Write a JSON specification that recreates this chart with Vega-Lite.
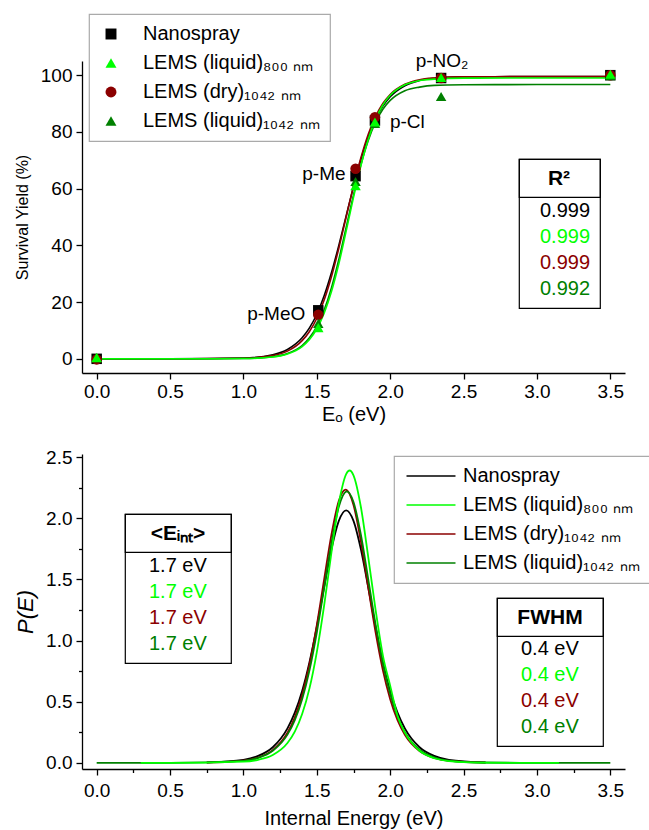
{
  "$schema": "https://vega.github.io/schema/vega-lite/v6.json",
  "background": "white",
  "autosize": {"type": "pad"},
  "padding": {"left": 14, "top": 13, "right": 4, "bottom": 4},
  "spacing": 81,
  "bounds": "flush",
  "config": {
    "font": "Liberation Sans",
    "view": {"stroke": null},
    "axis": {"domainColor": "#000000", "domainWidth": 1.3, "tickColor": "#000000", "tickWidth": 1.3, "labelFont": "Liberation Sans", "labelFontSize": 19, "labelColor": "#000000", "titleFont": "Liberation Sans", "titleFontSize": 20, "titleFontWeight": "normal", "titleColor": "#000000", "grid": false, "labelOverlap": false, "labelFlush": false, "labelBound": false},
    "legend": {"labelFont": "Liberation Sans", "titleFont": "Liberation Sans", "labelColor": "#000000", "titleColor": "#000000", "labelLimit": 400, "titleLimit": 400, "strokeWidth": 1.2}
  },
  "resolve": {"scale": {"color": "independent", "fill": "independent", "shape": "independent", "stroke": "independent", "strokeDash": "independent"}},
  "datasets": {
    "r2table": [
      {"row": 1, "series": "Nanospray"},
      {"row": 2, "series": "LEMS (liquid)₈₀₀ ₙₘ"},
      {"row": 3, "series": "LEMS (dry)₁₀₄₂ ₙₘ"},
      {"row": 4, "series": "LEMS (liquid)₁₀₄₂ ₙₘ"}
    ],
    "einttable": [
      {"row": 1, "series": "Nanospray"},
      {"row": 2, "series": "LEMS (liquid)₈₀₀ ₙₘ"},
      {"row": 3, "series": "LEMS (dry)₁₀₄₂ ₙₘ"},
      {"row": 4, "series": "LEMS (liquid)₁₀₄₂ ₙₘ"}
    ],
    "fwhmtable": [
      {"row": 1, "series": "Nanospray"},
      {"row": 2, "series": "LEMS (liquid)₈₀₀ ₙₘ"},
      {"row": 3, "series": "LEMS (dry)₁₀₄₂ ₙₘ"},
      {"row": 4, "series": "LEMS (liquid)₁₀₄₂ ₙₘ"}
    ],
    "r2header": [{"part": "R² header"}],
    "einthead": [{"part": "Eint header"}],
    "fwhmhead": [{"part": "FWHM header"}],
    "points": [
      {"series": "Nanospray", "E": 0, "Y": 0},
      {"series": "Nanospray", "E": 1.51, "Y": 17.1},
      {"series": "Nanospray", "E": 1.764, "Y": 64.4},
      {"series": "Nanospray", "E": 1.896, "Y": 84.0},
      {"series": "Nanospray", "E": 2.347, "Y": 99.0},
      {"series": "Nanospray", "E": 3.5, "Y": 100},
      {"series": "LEMS (dry)₁₀₄₂ ₙₘ", "E": 0, "Y": -0.2},
      {"series": "LEMS (dry)₁₀₄₂ ₙₘ", "E": 1.51, "Y": 15.5},
      {"series": "LEMS (dry)₁₀₄₂ ₙₘ", "E": 1.764, "Y": 67.0},
      {"series": "LEMS (dry)₁₀₄₂ ₙₘ", "E": 1.896, "Y": 85.2},
      {"series": "LEMS (dry)₁₀₄₂ ₙₘ", "E": 2.347, "Y": 99.0},
      {"series": "LEMS (dry)₁₀₄₂ ₙₘ", "E": 3.5, "Y": 100},
      {"series": "LEMS (liquid)₁₀₄₂ ₙₘ", "E": 0, "Y": 0.3},
      {"series": "LEMS (liquid)₁₀₄₂ ₙₘ", "E": 1.51, "Y": 12.5},
      {"series": "LEMS (liquid)₁₀₄₂ ₙₘ", "E": 1.764, "Y": 62.5},
      {"series": "LEMS (liquid)₁₀₄₂ ₙₘ", "E": 1.896, "Y": 83.0},
      {"series": "LEMS (liquid)₁₀₄₂ ₙₘ", "E": 2.347, "Y": 92.5},
      {"series": "LEMS (liquid)₁₀₄₂ ₙₘ", "E": 3.5, "Y": 99.8},
      {"series": "LEMS (liquid)₈₀₀ ₙₘ", "E": 0, "Y": 0.5},
      {"series": "LEMS (liquid)₈₀₀ ₙₘ", "E": 1.51, "Y": 11.0},
      {"series": "LEMS (liquid)₈₀₀ ₙₘ", "E": 1.764, "Y": 61.0},
      {"series": "LEMS (liquid)₈₀₀ ₙₘ", "E": 1.896, "Y": 83.5},
      {"series": "LEMS (liquid)₈₀₀ ₙₘ", "E": 2.347, "Y": 99.2},
      {"series": "LEMS (liquid)₈₀₀ ₙₘ", "E": 3.5, "Y": 100.3}
    ],
    "annotations": [
      {"label": "p-MeO", "E": 1.51, "Y": 17.1},
      {"label": "p-Me", "E": 1.764, "Y": 64.4},
      {"label": "p-Cl", "E": 1.896, "Y": 84.0},
      {"label": "p-NO₂", "E": 2.347, "Y": 99.0}
    ],
    "fits": [
      {"series": "Nanospray", "E": 0, "Y": 0}, {"series": "Nanospray", "E": 0.5, "Y": 0}, {"series": "Nanospray", "E": 1.0, "Y": 0.27}, {"series": "Nanospray", "E": 1.2, "Y": 1.45}, {"series": "Nanospray", "E": 1.3, "Y": 3.3}, {"series": "Nanospray", "E": 1.4, "Y": 7.4}, {"series": "Nanospray", "E": 1.45, "Y": 10.9}, {"series": "Nanospray", "E": 1.5, "Y": 15.7}, {"series": "Nanospray", "E": 1.55, "Y": 22.2}, {"series": "Nanospray", "E": 1.6, "Y": 30.4}, {"series": "Nanospray", "E": 1.65, "Y": 40.0}, {"series": "Nanospray", "E": 1.7, "Y": 50.4}, {"series": "Nanospray", "E": 1.75, "Y": 60.7}, {"series": "Nanospray", "E": 1.8, "Y": 70.2}, {"series": "Nanospray", "E": 1.85, "Y": 78.2}, {"series": "Nanospray", "E": 1.9, "Y": 84.4}, {"series": "Nanospray", "E": 1.95, "Y": 89.1}, {"series": "Nanospray", "E": 2.0, "Y": 92.4}, {"series": "Nanospray", "E": 2.1, "Y": 96.3}, {"series": "Nanospray", "E": 2.2, "Y": 98.1}, {"series": "Nanospray", "E": 2.3, "Y": 98.9}, {"series": "Nanospray", "E": 2.5, "Y": 99.4}, {"series": "Nanospray", "E": 3.0, "Y": 99.5}, {"series": "Nanospray", "E": 3.5, "Y": 99.5},
      {"series": "LEMS (dry)₁₀₄₂ ₙₘ", "E": 0, "Y": 0}, {"series": "LEMS (dry)₁₀₄₂ ₙₘ", "E": 0.5, "Y": 0}, {"series": "LEMS (dry)₁₀₄₂ ₙₘ", "E": 1.0, "Y": 0.19}, {"series": "LEMS (dry)₁₀₄₂ ₙₘ", "E": 1.2, "Y": 1.13}, {"series": "LEMS (dry)₁₀₄₂ ₙₘ", "E": 1.3, "Y": 2.7}, {"series": "LEMS (dry)₁₀₄₂ ₙₘ", "E": 1.4, "Y": 6.4}, {"series": "LEMS (dry)₁₀₄₂ ₙₘ", "E": 1.45, "Y": 9.65}, {"series": "LEMS (dry)₁₀₄₂ ₙₘ", "E": 1.5, "Y": 14.3}, {"series": "LEMS (dry)₁₀₄₂ ₙₘ", "E": 1.55, "Y": 20.7}, {"series": "LEMS (dry)₁₀₄₂ ₙₘ", "E": 1.6, "Y": 29.0}, {"series": "LEMS (dry)₁₀₄₂ ₙₘ", "E": 1.65, "Y": 39.0}, {"series": "LEMS (dry)₁₀₄₂ ₙₘ", "E": 1.7, "Y": 50.0}, {"series": "LEMS (dry)₁₀₄₂ ₙₘ", "E": 1.75, "Y": 60.9}, {"series": "LEMS (dry)₁₀₄₂ ₙₘ", "E": 1.8, "Y": 70.8}, {"series": "LEMS (dry)₁₀₄₂ ₙₘ", "E": 1.85, "Y": 79.1}, {"series": "LEMS (dry)₁₀₄₂ ₙₘ", "E": 1.9, "Y": 85.4}, {"series": "LEMS (dry)₁₀₄₂ ₙₘ", "E": 1.95, "Y": 90.0}, {"series": "LEMS (dry)₁₀₄₂ ₙₘ", "E": 2.0, "Y": 93.2}, {"series": "LEMS (dry)₁₀₄₂ ₙₘ", "E": 2.1, "Y": 96.8}, {"series": "LEMS (dry)₁₀₄₂ ₙₘ", "E": 2.2, "Y": 98.4}, {"series": "LEMS (dry)₁₀₄₂ ₙₘ", "E": 2.3, "Y": 99.0}, {"series": "LEMS (dry)₁₀₄₂ ₙₘ", "E": 2.5, "Y": 99.4}, {"series": "LEMS (dry)₁₀₄₂ ₙₘ", "E": 3.0, "Y": 99.5}, {"series": "LEMS (dry)₁₀₄₂ ₙₘ", "E": 3.5, "Y": 99.5},
      {"series": "LEMS (liquid)₁₀₄₂ ₙₘ", "E": 0, "Y": 0}, {"series": "LEMS (liquid)₁₀₄₂ ₙₘ", "E": 0.5, "Y": 0}, {"series": "LEMS (liquid)₁₀₄₂ ₙₘ", "E": 1.0, "Y": 0.1}, {"series": "LEMS (liquid)₁₀₄₂ ₙₘ", "E": 1.2, "Y": 0.72}, {"series": "LEMS (liquid)₁₀₄₂ ₙₘ", "E": 1.3, "Y": 1.86}, {"series": "LEMS (liquid)₁₀₄₂ ₙₘ", "E": 1.4, "Y": 4.7}, {"series": "LEMS (liquid)₁₀₄₂ ₙₘ", "E": 1.45, "Y": 7.4}, {"series": "LEMS (liquid)₁₀₄₂ ₙₘ", "E": 1.5, "Y": 11.4}, {"series": "LEMS (liquid)₁₀₄₂ ₙₘ", "E": 1.55, "Y": 17.2}, {"series": "LEMS (liquid)₁₀₄₂ ₙₘ", "E": 1.6, "Y": 25.1}, {"series": "LEMS (liquid)₁₀₄₂ ₙₘ", "E": 1.65, "Y": 35.0}, {"series": "LEMS (liquid)₁₀₄₂ ₙₘ", "E": 1.7, "Y": 46.3}, {"series": "LEMS (liquid)₁₀₄₂ ₙₘ", "E": 1.75, "Y": 57.8}, {"series": "LEMS (liquid)₁₀₄₂ ₙₘ", "E": 1.8, "Y": 68.3}, {"series": "LEMS (liquid)₁₀₄₂ ₙₘ", "E": 1.85, "Y": 76.9}, {"series": "LEMS (liquid)₁₀₄₂ ₙₘ", "E": 1.9, "Y": 83.4}, {"series": "LEMS (liquid)₁₀₄₂ ₙₘ", "E": 1.95, "Y": 88.0}, {"series": "LEMS (liquid)₁₀₄₂ ₙₘ", "E": 2.0, "Y": 91.1}, {"series": "LEMS (liquid)₁₀₄₂ ₙₘ", "E": 2.1, "Y": 94.5}, {"series": "LEMS (liquid)₁₀₄₂ ₙₘ", "E": 2.2, "Y": 95.8}, {"series": "LEMS (liquid)₁₀₄₂ ₙₘ", "E": 2.3, "Y": 96.4}, {"series": "LEMS (liquid)₁₀₄₂ ₙₘ", "E": 2.5, "Y": 96.6}, {"series": "LEMS (liquid)₁₀₄₂ ₙₘ", "E": 3.0, "Y": 96.7}, {"series": "LEMS (liquid)₁₀₄₂ ₙₘ", "E": 3.5, "Y": 96.7},
      {"series": "LEMS (liquid)₈₀₀ ₙₘ", "E": 0, "Y": 0}, {"series": "LEMS (liquid)₈₀₀ ₙₘ", "E": 0.5, "Y": 0}, {"series": "LEMS (liquid)₈₀₀ ₙₘ", "E": 1.0, "Y": 0.09}, {"series": "LEMS (liquid)₈₀₀ ₙₘ", "E": 1.2, "Y": 0.64}, {"series": "LEMS (liquid)₈₀₀ ₙₘ", "E": 1.3, "Y": 1.66}, {"series": "LEMS (liquid)₈₀₀ ₙₘ", "E": 1.4, "Y": 4.3}, {"series": "LEMS (liquid)₈₀₀ ₙₘ", "E": 1.45, "Y": 6.8}, {"series": "LEMS (liquid)₈₀₀ ₙₘ", "E": 1.5, "Y": 10.6}, {"series": "LEMS (liquid)₈₀₀ ₙₘ", "E": 1.55, "Y": 16.1}, {"series": "LEMS (liquid)₈₀₀ ₙₘ", "E": 1.6, "Y": 23.7}, {"series": "LEMS (liquid)₈₀₀ ₙₘ", "E": 1.65, "Y": 33.5}, {"series": "LEMS (liquid)₈₀₀ ₙₘ", "E": 1.7, "Y": 45.0}, {"series": "LEMS (liquid)₈₀₀ ₙₘ", "E": 1.75, "Y": 56.9}, {"series": "LEMS (liquid)₈₀₀ ₙₘ", "E": 1.8, "Y": 68.0}, {"series": "LEMS (liquid)₈₀₀ ₙₘ", "E": 1.85, "Y": 77.3}, {"series": "LEMS (liquid)₈₀₀ ₙₘ", "E": 1.9, "Y": 84.4}, {"series": "LEMS (liquid)₈₀₀ ₙₘ", "E": 1.95, "Y": 89.5}, {"series": "LEMS (liquid)₈₀₀ ₙₘ", "E": 2.0, "Y": 92.9}, {"series": "LEMS (liquid)₈₀₀ ₙₘ", "E": 2.1, "Y": 96.6}, {"series": "LEMS (liquid)₈₀₀ ₙₘ", "E": 2.2, "Y": 98.1}, {"series": "LEMS (liquid)₈₀₀ ₙₘ", "E": 2.3, "Y": 98.6}, {"series": "LEMS (liquid)₈₀₀ ₙₘ", "E": 2.5, "Y": 98.95}, {"series": "LEMS (liquid)₈₀₀ ₙₘ", "E": 3.0, "Y": 99.0}, {"series": "LEMS (liquid)₈₀₀ ₙₘ", "E": 3.5, "Y": 99.0}
    ],
    "pe": [
      {"series": "Nanospray", "E": 0.75, "Y": 0.003}, {"series": "Nanospray", "E": 1.0, "Y": 0.025}, {"series": "Nanospray", "E": 1.1, "Y": 0.057}, {"series": "Nanospray", "E": 1.2, "Y": 0.128}, {"series": "Nanospray", "E": 1.3, "Y": 0.282}, {"series": "Nanospray", "E": 1.35, "Y": 0.411}, {"series": "Nanospray", "E": 1.4, "Y": 0.588}, {"series": "Nanospray", "E": 1.45, "Y": 0.824}, {"series": "Nanospray", "E": 1.5, "Y": 1.114}, {"series": "Nanospray", "E": 1.55, "Y": 1.438}, {"series": "Nanospray", "E": 1.6, "Y": 1.747}, {"series": "Nanospray", "E": 1.65, "Y": 1.978}, {"series": "Nanospray", "E": 1.7, "Y": 2.064}, {"series": "Nanospray", "E": 1.75, "Y": 1.978}, {"series": "Nanospray", "E": 1.8, "Y": 1.747}, {"series": "Nanospray", "E": 1.85, "Y": 1.438}, {"series": "Nanospray", "E": 1.9, "Y": 1.114}, {"series": "Nanospray", "E": 1.95, "Y": 0.824}, {"series": "Nanospray", "E": 2.0, "Y": 0.588}, {"series": "Nanospray", "E": 2.05, "Y": 0.411}, {"series": "Nanospray", "E": 2.1, "Y": 0.282}, {"series": "Nanospray", "E": 2.2, "Y": 0.128}, {"series": "Nanospray", "E": 2.3, "Y": 0.057}, {"series": "Nanospray", "E": 2.4, "Y": 0.025}, {"series": "Nanospray", "E": 2.65, "Y": 0.003},
      {"series": "LEMS (dry)₁₀₄₂ ₙₘ", "E": 0.75, "Y": 0.002}, {"series": "LEMS (dry)₁₀₄₂ ₙₘ", "E": 1.0, "Y": 0.018}, {"series": "LEMS (dry)₁₀₄₂ ₙₘ", "E": 1.1, "Y": 0.043}, {"series": "LEMS (dry)₁₀₄₂ ₙₘ", "E": 1.2, "Y": 0.104}, {"series": "LEMS (dry)₁₀₄₂ ₙₘ", "E": 1.3, "Y": 0.246}, {"series": "LEMS (dry)₁₀₄₂ ₙₘ", "E": 1.35, "Y": 0.372}, {"series": "LEMS (dry)₁₀₄₂ ₙₘ", "E": 1.4, "Y": 0.554}, {"series": "LEMS (dry)₁₀₄₂ ₙₘ", "E": 1.45, "Y": 0.804}, {"series": "LEMS (dry)₁₀₄₂ ₙₘ", "E": 1.5, "Y": 1.126}, {"series": "LEMS (dry)₁₀₄₂ ₙₘ", "E": 1.55, "Y": 1.5}, {"series": "LEMS (dry)₁₀₄₂ ₙₘ", "E": 1.6, "Y": 1.868}, {"series": "LEMS (dry)₁₀₄₂ ₙₘ", "E": 1.65, "Y": 2.142}, {"series": "LEMS (dry)₁₀₄₂ ₙₘ", "E": 1.696, "Y": 2.233}, {"series": "LEMS (dry)₁₀₄₂ ₙₘ", "E": 1.75, "Y": 2.108}, {"series": "LEMS (dry)₁₀₄₂ ₙₘ", "E": 1.8, "Y": 1.813}, {"series": "LEMS (dry)₁₀₄₂ ₙₘ", "E": 1.85, "Y": 1.438}, {"series": "LEMS (dry)₁₀₄₂ ₙₘ", "E": 1.9, "Y": 1.071}, {"series": "LEMS (dry)₁₀₄₂ ₙₘ", "E": 1.95, "Y": 0.759}, {"series": "LEMS (dry)₁₀₄₂ ₙₘ", "E": 2.0, "Y": 0.521}, {"series": "LEMS (dry)₁₀₄₂ ₙₘ", "E": 2.05, "Y": 0.349}, {"series": "LEMS (dry)₁₀₄₂ ₙₘ", "E": 2.1, "Y": 0.23}, {"series": "LEMS (dry)₁₀₄₂ ₙₘ", "E": 2.2, "Y": 0.097}, {"series": "LEMS (dry)₁₀₄₂ ₙₘ", "E": 2.3, "Y": 0.04}, {"series": "LEMS (dry)₁₀₄₂ ₙₘ", "E": 2.4, "Y": 0.017}, {"series": "LEMS (dry)₁₀₄₂ ₙₘ", "E": 2.65, "Y": 0.002},
      {"series": "LEMS (liquid)₁₀₄₂ ₙₘ", "E": 0, "Y": 0}, {"series": "LEMS (liquid)₁₀₄₂ ₙₘ", "E": 0.5, "Y": 0}, {"series": "LEMS (liquid)₁₀₄₂ ₙₘ", "E": 1.0, "Y": 0.017}, {"series": "LEMS (liquid)₁₀₄₂ ₙₘ", "E": 1.1, "Y": 0.041}, {"series": "LEMS (liquid)₁₀₄₂ ₙₘ", "E": 1.2, "Y": 0.099}, {"series": "LEMS (liquid)₁₀₄₂ ₙₘ", "E": 1.3, "Y": 0.231}, {"series": "LEMS (liquid)₁₀₄₂ ₙₘ", "E": 1.35, "Y": 0.349}, {"series": "LEMS (liquid)₁₀₄₂ ₙₘ", "E": 1.4, "Y": 0.52}, {"series": "LEMS (liquid)₁₀₄₂ ₙₘ", "E": 1.45, "Y": 0.757}, {"series": "LEMS (liquid)₁₀₄₂ ₙₘ", "E": 1.5, "Y": 1.066}, {"series": "LEMS (liquid)₁₀₄₂ ₙₘ", "E": 1.55, "Y": 1.43}, {"series": "LEMS (liquid)₁₀₄₂ ₙₘ", "E": 1.6, "Y": 1.8}, {"series": "LEMS (liquid)₁₀₄₂ ₙₘ", "E": 1.65, "Y": 2.093}, {"series": "LEMS (liquid)₁₀₄₂ ₙₘ", "E": 1.705, "Y": 2.22}, {"series": "LEMS (liquid)₁₀₄₂ ₙₘ", "E": 1.75, "Y": 2.133}, {"series": "LEMS (liquid)₁₀₄₂ ₙₘ", "E": 1.8, "Y": 1.867}, {"series": "LEMS (liquid)₁₀₄₂ ₙₘ", "E": 1.85, "Y": 1.505}, {"series": "LEMS (liquid)₁₀₄₂ ₙₘ", "E": 1.9, "Y": 1.134}, {"series": "LEMS (liquid)₁₀₄₂ ₙₘ", "E": 1.95, "Y": 0.813}, {"series": "LEMS (liquid)₁₀₄₂ ₙₘ", "E": 2.0, "Y": 0.562}, {"series": "LEMS (liquid)₁₀₄₂ ₙₘ", "E": 2.05, "Y": 0.379}, {"series": "LEMS (liquid)₁₀₄₂ ₙₘ", "E": 2.1, "Y": 0.251}, {"series": "LEMS (liquid)₁₀₄₂ ₙₘ", "E": 2.2, "Y": 0.107}, {"series": "LEMS (liquid)₁₀₄₂ ₙₘ", "E": 2.3, "Y": 0.045}, {"series": "LEMS (liquid)₁₀₄₂ ₙₘ", "E": 2.4, "Y": 0.018}, {"series": "LEMS (liquid)₁₀₄₂ ₙₘ", "E": 2.6, "Y": 0.003}, {"series": "LEMS (liquid)₁₀₄₂ ₙₘ", "E": 3.0, "Y": 0}, {"series": "LEMS (liquid)₁₀₄₂ ₙₘ", "E": 3.5, "Y": 0},
      {"series": "LEMS (liquid)₈₀₀ ₙₘ", "E": 0.3, "Y": 0}, {"series": "LEMS (liquid)₈₀₀ ₙₘ", "E": 0.5, "Y": 0}, {"series": "LEMS (liquid)₈₀₀ ₙₘ", "E": 1.0, "Y": 0.01}, {"series": "LEMS (liquid)₈₀₀ ₙₘ", "E": 1.1, "Y": 0.025}, {"series": "LEMS (liquid)₈₀₀ ₙₘ", "E": 1.2, "Y": 0.064}, {"series": "LEMS (liquid)₈₀₀ ₙₘ", "E": 1.3, "Y": 0.162}, {"series": "LEMS (liquid)₈₀₀ ₙₘ", "E": 1.35, "Y": 0.255}, {"series": "LEMS (liquid)₈₀₀ ₙₘ", "E": 1.4, "Y": 0.399}, {"series": "LEMS (liquid)₈₀₀ ₙₘ", "E": 1.45, "Y": 0.609}, {"series": "LEMS (liquid)₈₀₀ ₙₘ", "E": 1.5, "Y": 0.906}, {"series": "LEMS (liquid)₈₀₀ ₙₘ", "E": 1.55, "Y": 1.288}, {"series": "LEMS (liquid)₈₀₀ ₙₘ", "E": 1.6, "Y": 1.722}, {"series": "LEMS (liquid)₈₀₀ ₙₘ", "E": 1.65, "Y": 2.121}, {"series": "LEMS (liquid)₈₀₀ ₙₘ", "E": 1.7, "Y": 2.361}, {"series": "LEMS (liquid)₈₀₀ ₙₘ", "E": 1.723, "Y": 2.39}, {"series": "LEMS (liquid)₈₀₀ ₙₘ", "E": 1.75, "Y": 2.351}, {"series": "LEMS (liquid)₈₀₀ ₙₘ", "E": 1.8, "Y": 2.094}, {"series": "LEMS (liquid)₈₀₀ ₙₘ", "E": 1.85, "Y": 1.687}, {"series": "LEMS (liquid)₈₀₀ ₙₘ", "E": 1.9, "Y": 1.255}, {"series": "LEMS (liquid)₈₀₀ ₙₘ", "E": 1.95, "Y": 0.879}, {"series": "LEMS (liquid)₈₀₀ ₙₘ", "E": 2.0, "Y": 0.631}, {"series": "LEMS (liquid)₈₀₀ ₙₘ", "E": 2.05, "Y": 0.385}, {"series": "LEMS (liquid)₈₀₀ ₙₘ", "E": 2.1, "Y": 0.247}, {"series": "LEMS (liquid)₈₀₀ ₙₘ", "E": 2.2, "Y": 0.099}, {"series": "LEMS (liquid)₈₀₀ ₙₘ", "E": 2.3, "Y": 0.038}, {"series": "LEMS (liquid)₈₀₀ ₙₘ", "E": 2.4, "Y": 0.015}, {"series": "LEMS (liquid)₈₀₀ ₙₘ", "E": 2.6, "Y": 0.002}, {"series": "LEMS (liquid)₈₀₀ ₙₘ", "E": 3.0, "Y": 0}, {"series": "LEMS (liquid)₈₀₀ ₙₘ", "E": 3.15, "Y": 0}
    ]
  },
  "vconcat": [
    {
      "width": 543,
      "height": 312,
      "layer": [
        {
          "data": {"name": "fits"},
          "mark": {"type": "line", "interpolate": "monotone", "strokeWidth": 1.6},
          "encoding": {
            "x": {"field": "E", "type": "quantitative", "scale": {"domain": [-0.1, 3.6], "nice": false, "zero": false},
              "axis": {"values": [0, 0.25, 0.5, 0.75, 1, 1.25, 1.5, 1.75, 2, 2.25, 2.5, 2.75, 3, 3.25, 3.5], "labelExpr": "round(datum.value*4) % 2 == 0 ? format(datum.value, '.1f') : ''", "tickSize": {"condition": {"test": "round(datum.value*4) % 2 == 0", "value": 6}, "value": 3.5}, "labelPadding": 3, "title": "Eₒ (eV)", "titlePadding": 3}},
            "y": {"field": "Y", "type": "quantitative", "scale": {"domain": [-5, 105], "nice": false, "zero": false},
              "axis": {"values": [0, 5, 10, 15, 20, 25, 30, 35, 40, 45, 50, 55, 60, 65, 70, 75, 80, 85, 90, 95, 100], "labelExpr": "datum.value % 10 == 0 ? datum.label : ''", "tickSize": {"condition": {"test": "datum.value % 10 == 0", "value": 6}, "value": 3.5}, "labelPadding": 4, "title": "Survival Yield (%)", "titleFontSize": 16, "titlePadding": 10}},
            "color": {"field": "series", "type": "nominal", "scale": {"domain": ["Nanospray", "LEMS (dry)₁₀₄₂ ₙₘ", "LEMS (liquid)₁₀₄₂ ₙₘ", "LEMS (liquid)₈₀₀ ₙₘ"], "range": ["#000000", "#8B0000", "#008000", "#00FF00"]}, "legend": null}
          }
        },
        {
          "data": {"name": "points"},
          "mark": {"type": "point", "filled": true, "size": 110, "opacity": 1},
          "encoding": {
            "x": {"field": "E", "type": "quantitative", "scale": {"domain": [-0.1, 3.6], "nice": false, "zero": false}},
            "y": {"field": "Y", "type": "quantitative", "scale": {"domain": [-5, 105], "nice": false, "zero": false}},
            "fill": {"field": "series", "type": "nominal", "scale": {"domain": ["Nanospray", "LEMS (liquid)₈₀₀ ₙₘ", "LEMS (dry)₁₀₄₂ ₙₘ", "LEMS (liquid)₁₀₄₂ ₙₘ"], "range": ["#000000", "#00FF00", "#8B0000", "#008000"]},
              "legend": {"orient": "none", "legendX": 7, "legendY": -47, "title": null, "padding": 10, "strokeColor": "#aaaaaa", "labelFontSize": 20, "symbolSize": 120, "symbolOffset": 2, "labelOffset": 22, "rowPadding": 9, "symbolStrokeWidth": 0}},
            "shape": {"field": "series", "type": "nominal", "scale": {"domain": ["Nanospray", "LEMS (liquid)₈₀₀ ₙₘ", "LEMS (dry)₁₀₄₂ ₙₘ", "LEMS (liquid)₁₀₄₂ ₙₘ"], "range": ["square", "triangle-up", "circle", "triangle-up"]},
              "legend": {"orient": "none", "legendX": 7, "legendY": -47, "title": null, "padding": 10, "strokeColor": "#aaaaaa", "labelFontSize": 20, "symbolSize": 120, "symbolOffset": 2, "labelOffset": 22, "rowPadding": 9, "symbolStrokeWidth": 0}}
          }
        },
        {
          "data": {"name": "annotations"},
          "transform": [{"filter": "datum.label == 'p-MeO'"}],
          "mark": {"type": "text", "align": "right", "baseline": "middle", "dx": -13, "dy": 4, "fontSize": 19, "color": "#000000"},
          "encoding": {
            "x": {"field": "E", "type": "quantitative", "scale": {"domain": [-0.1, 3.6], "nice": false, "zero": false}},
            "y": {"field": "Y", "type": "quantitative", "scale": {"domain": [-5, 105], "nice": false, "zero": false}},
            "text": {"field": "label"}
          }
        },
        {
          "data": {"name": "annotations"},
          "transform": [{"filter": "datum.label == 'p-Me'"}],
          "mark": {"type": "text", "align": "right", "baseline": "middle", "dx": -10, "dy": -2, "fontSize": 19, "color": "#000000"},
          "encoding": {
            "x": {"field": "E", "type": "quantitative", "scale": {"domain": [-0.1, 3.6], "nice": false, "zero": false}},
            "y": {"field": "Y", "type": "quantitative", "scale": {"domain": [-5, 105], "nice": false, "zero": false}},
            "text": {"field": "label"}
          }
        },
        {
          "data": {"name": "annotations"},
          "transform": [{"filter": "datum.label == 'p-Cl'"}],
          "mark": {"type": "text", "align": "left", "baseline": "middle", "dx": 15, "dy": 1, "fontSize": 19, "color": "#000000"},
          "encoding": {
            "x": {"field": "E", "type": "quantitative", "scale": {"domain": [-0.1, 3.6], "nice": false, "zero": false}},
            "y": {"field": "Y", "type": "quantitative", "scale": {"domain": [-5, 105], "nice": false, "zero": false}},
            "text": {"field": "label"}
          }
        },
        {
          "data": {"name": "annotations"},
          "transform": [{"filter": "datum.label == 'p-NO₂'"}],
          "mark": {"type": "text", "align": "center", "baseline": "middle", "dx": 1, "dy": -17, "fontSize": 19, "color": "#000000"},
          "encoding": {
            "x": {"field": "E", "type": "quantitative", "scale": {"domain": [-0.1, 3.6], "nice": false, "zero": false}},
            "y": {"field": "Y", "type": "quantitative", "scale": {"domain": [-5, 105], "nice": false, "zero": false}},
            "text": {"field": "label"}
          }
        },
        {
          "data": {"name": "r2table"},
          "mark": {"type": "point", "filled": false, "size": 0, "opacity": 0},
          "encoding": {
            "stroke": {"field": "series", "type": "nominal", "sort": {"field": "row", "op": "min"}, "scale": {"range": ["transparent", "transparent", "transparent", "transparent"]},
              "legend": {"orient": "none", "legendX": 437, "legendY": 98, "title": "R²", "titleFontSize": 21, "titleFontWeight": "bold", "titleAnchor": "middle", "titlePadding": 12, "padding": 9, "strokeColor": "#000000", "labelFontSize": 20, "labelExpr": "datum.label == 'LEMS (liquid)₁₀₄₂ ₙₘ' ? '0.992' : '0.999'", "labelColor": {"expr": "datum.value == 'Nanospray' ? '#000000' : datum.value == 'LEMS (liquid)₈₀₀ ₙₘ' ? '#00FF00' : datum.value == 'LEMS (dry)₁₀₄₂ ₙₘ' ? '#8B0000' : '#008000'"}, "symbolSize": 1, "symbolStrokeWidth": 0, "labelOffset": -8, "rowPadding": 6}}
          }
        },
        {
          "data": {"name": "r2header"},
          "mark": {"type": "point", "filled": false, "size": 0, "opacity": 0, "color": "transparent"},
          "encoding": {
            "strokeDash": {"field": "part", "type": "nominal", "scale": {"range": [[1, 0]]},
              "legend": {"orient": "none", "legendX": 437, "legendY": 98, "title": null, "padding": 9, "strokeColor": "#000000", "labelFontSize": 1, "labelExpr": "''", "symbolType": "M-3.15,-1H3.15V1H-3.15Z", "symbolSize": 400, "symbolStrokeWidth": 0, "symbolStrokeColor": "transparent", "symbolFillColor": "transparent", "symbolOffset": 21.5, "labelOffset": 0}}
          }
        }
      ]
    },
    {
      "width": 543,
      "height": 315,
      "layer": [
        {
          "data": {"name": "pe"},
          "mark": {"type": "line", "interpolate": "monotone", "strokeWidth": 1.8},
          "encoding": {
            "x": {"field": "E", "type": "quantitative", "scale": {"domain": [-0.1, 3.6], "nice": false, "zero": false},
              "axis": {"values": [0, 0.25, 0.5, 0.75, 1, 1.25, 1.5, 1.75, 2, 2.25, 2.5, 2.75, 3, 3.25, 3.5], "labelExpr": "round(datum.value*4) % 2 == 0 ? format(datum.value, '.1f') : ''", "tickSize": {"condition": {"test": "round(datum.value*4) % 2 == 0", "value": 6}, "value": 3.5}, "labelPadding": 6, "title": "Internal Energy (eV)", "titlePadding": 8}},
            "y": {"field": "Y", "type": "quantitative", "scale": {"domain": [-0.05, 2.525], "nice": false, "zero": false},
              "axis": {"values": [0, 0.25, 0.5, 0.75, 1, 1.25, 1.5, 1.75, 2, 2.25, 2.5], "labelExpr": "round(datum.value*4) % 2 == 0 ? format(datum.value, '.1f') : ''", "tickSize": {"condition": {"test": "round(datum.value*4) % 2 == 0", "value": 6}, "value": 3.5}, "labelPadding": 4, "title": "P(E)", "titleFontStyle": "italic", "titleFontSize": 22, "titlePadding": 8}},
            "color": {"field": "series", "type": "nominal", "scale": {"domain": ["Nanospray", "LEMS (liquid)₈₀₀ ₙₘ", "LEMS (dry)₁₀₄₂ ₙₘ", "LEMS (liquid)₁₀₄₂ ₙₘ"], "range": ["#000000", "#00FF00", "#8B0000", "#008000"]},
              "legend": {"orient": "none", "legendX": 312, "legendY": 2, "title": null, "padding": 10, "strokeColor": "#aaaaaa", "labelFontSize": 20, "symbolType": "M-10,0H10", "symbolSize": 24, "symbolStrokeWidth": 1.6, "symbolOffset": 17, "labelOffset": 22, "rowPadding": 9}}
          }
        },
        {
          "data": {"name": "einttable"},
          "mark": {"type": "point", "filled": true, "size": 0, "opacity": 0},
          "encoding": {
            "fill": {"field": "series", "type": "nominal", "sort": {"field": "row", "op": "min"}, "scale": {"range": ["transparent", "transparent", "transparent", "transparent"]},
              "legend": {"orient": "none", "legendX": 43, "legendY": 60, "title": "<Eᵢₙₜ>", "titleFontSize": 21, "titleFontWeight": "bold", "titleAnchor": "middle", "titlePadding": 12, "padding": 9, "strokeColor": "#000000", "labelFontSize": 20, "labelExpr": "'1.7 eV\u2800'", "labelColor": {"expr": "datum.value == 'Nanospray' ? '#000000' : datum.value == 'LEMS (liquid)₈₀₀ ₙₘ' ? '#00FF00' : datum.value == 'LEMS (dry)₁₀₄₂ ₙₘ' ? '#8B0000' : '#008000'"}, "symbolSize": 1, "symbolStrokeWidth": 0, "labelOffset": -5, "rowPadding": 6}}
          }
        },
        {
          "data": {"name": "einthead"},
          "mark": {"type": "point", "filled": false, "size": 0, "opacity": 0, "color": "transparent"},
          "encoding": {
            "strokeDash": {"field": "part", "type": "nominal", "scale": {"range": [[1, 0]]},
              "legend": {"orient": "none", "legendX": 43, "legendY": 60, "title": null, "padding": 9, "strokeColor": "#000000", "labelFontSize": 1, "labelExpr": "''", "symbolType": "M-4.4,-1H4.4V1H-4.4Z", "symbolSize": 400, "symbolStrokeWidth": 0, "symbolStrokeColor": "transparent", "symbolFillColor": "transparent", "symbolOffset": 34, "labelOffset": 0}}
          }
        },
        {
          "data": {"name": "fwhmtable"},
          "mark": {"type": "point", "filled": false, "size": 0, "opacity": 0},
          "encoding": {
            "stroke": {"field": "series", "type": "nominal", "sort": {"field": "row", "op": "min"}, "scale": {"range": ["transparent", "transparent", "transparent", "transparent"]},
              "legend": {"orient": "none", "legendX": 415, "legendY": 144, "title": "FWHM", "titleFontSize": 21, "titleFontWeight": "bold", "titleAnchor": "middle", "titlePadding": 11, "padding": 9, "strokeColor": "#000000", "labelFontSize": 20, "labelExpr": "'0.4 eV\u2800'", "labelColor": {"expr": "datum.value == 'Nanospray' ? '#000000' : datum.value == 'LEMS (liquid)₈₀₀ ₙₘ' ? '#00FF00' : datum.value == 'LEMS (dry)₁₀₄₂ ₙₘ' ? '#8B0000' : '#008000'"}, "symbolSize": 1, "symbolStrokeWidth": 0, "labelOffset": -5, "rowPadding": 6}}
          }
        },
        {
          "data": {"name": "fwhmhead"},
          "mark": {"type": "point", "filled": false, "size": 0, "opacity": 0, "color": "transparent"},
          "encoding": {
            "shape": {"field": "part", "type": "nominal", "scale": {"range": ["M-4.4,-1H4.4V1H-4.4Z"]},
              "legend": {"orient": "none", "legendX": 415, "legendY": 144, "title": null, "padding": 9, "strokeColor": "#000000", "labelFontSize": 1, "labelExpr": "''", "symbolType": "M-4.4,-1H4.4V1H-4.4Z", "symbolSize": 400, "symbolStrokeWidth": 0, "symbolStrokeColor": "transparent", "symbolFillColor": "transparent", "symbolOffset": 34, "labelOffset": 0}}
          }
        }
      ]
    }
  ]
}
